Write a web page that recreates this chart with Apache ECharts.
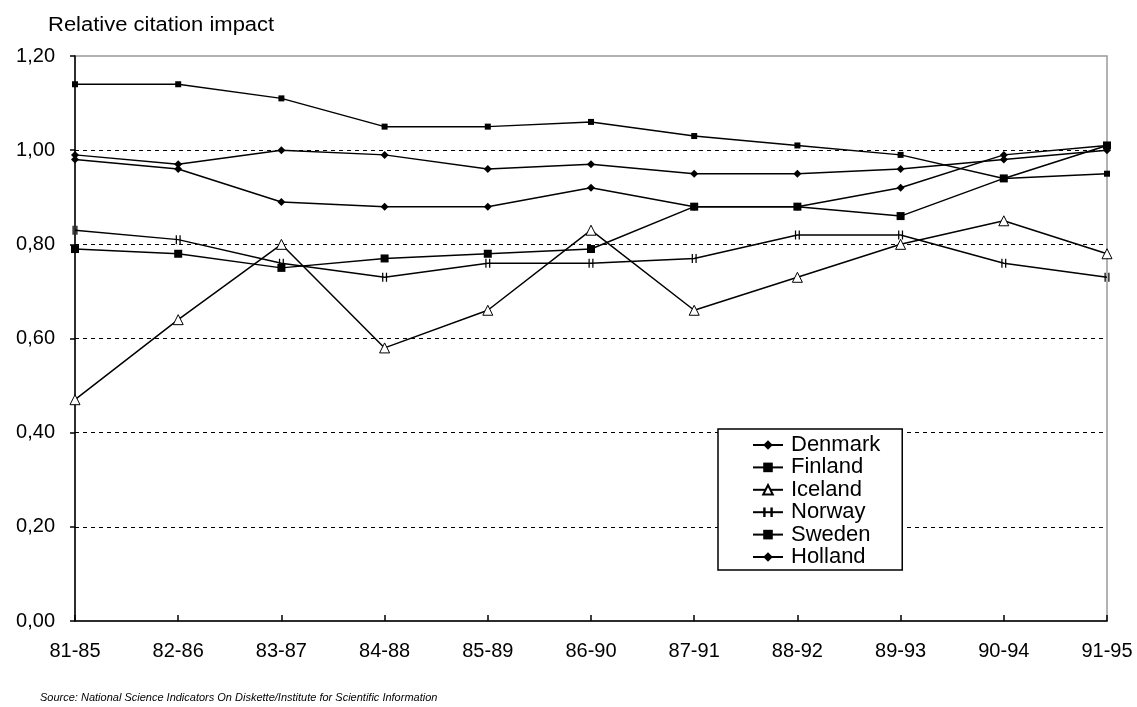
<!DOCTYPE html>
<html><head><meta charset="utf-8">
<script src="https://cdn.jsdelivr.net/npm/echarts@6/dist/echarts.min.js"></script>
<style>html,body{margin:0;padding:0;background:#fff}#c{width:1137px;height:707px}</style>
</head><body><div id="c"></div>
<script>
const categories = ['81-85','82-86','83-87','84-88','85-89','86-90','87-91','88-92','89-93','90-94','91-95'];
const denmark = [0.99,0.97,1.00,0.99,0.96,0.97,0.95,0.95,0.96,0.98,1.00];
const finland = [0.79,0.78,0.75,0.77,0.78,0.79,0.88,0.88,0.86,0.94,1.01];
const iceland = [0.47,0.64,0.80,0.58,0.66,0.83,0.66,0.73,0.80,0.85,0.78];
const norway  = [0.83,0.81,0.76,0.73,0.76,0.76,0.77,0.82,0.82,0.76,0.73];
const sweden  = [1.14,1.14,1.11,1.05,1.05,1.06,1.03,1.01,0.99,0.94,0.95];
const holland = [0.98,0.96,0.89,0.88,0.88,0.92,0.88,0.88,0.92,0.99,1.01];

const FONT = '"Liberation Sans", Arial, sans-serif';
function ser(name, data, symbol, size, fill) {
  return {
    name, type: 'line', data, symbol, symbolSize: size, showSymbol: true,
    lineStyle: { color: '#000', width: 1.5 },
    itemStyle: { color: fill || '#000', borderColor: '#000', borderWidth: fill ? 1 : 0 },
    emphasis: { disabled: true }, animation: false
  };
}
const chart = echarts.init(document.getElementById('c'), null, { renderer: 'canvas' });
chart.setOption({
  animation: false,
  backgroundColor: '#fff',
  textStyle: { fontFamily: FONT },
  grid: { left: 75, right: 30, top: 56, bottom: 86, show: true, borderColor: '#999', borderWidth: 1.5 },
  graphic: [
    { type: 'text', left: 48, top: 15, scaleX: 1.1, style: { text: 'Relative citation impact', font: '20px ' + FONT, fill: '#000' } },
    { type: 'text', left: 40, top: 692, style: { text: 'Source: National Science Indicators On Diskette/Institute for Scientific Information', font: 'italic 11px ' + FONT, fill: '#000' } }
  ],
  xAxis: {
    type: 'category', data: categories, boundaryGap: false,
    axisLine: { lineStyle: { color: '#000', width: 1.5 } },
    axisTick: { show: true, inside: true, length: 6, alignWithLabel: true, lineStyle: { color: '#000', width: 1.5 } },
    axisLabel: { color: '#000', fontSize: 20, margin: 20, fontFamily: FONT },
    splitLine: { show: false }
  },
  yAxis: {
    type: 'value', min: 0, max: 1.2, interval: 0.2,
    axisLine: { show: true, lineStyle: { color: '#000', width: 1.5 } },
    axisTick: { show: true, length: 5, lineStyle: { color: '#000', width: 1.5 } },
    axisLabel: { color: '#000', fontSize: 20, margin: 20, fontFamily: FONT,
      formatter: v => v.toFixed(2).replace('.', ',') },
    splitLine: { show: true, lineStyle: { color: ['transparent','#000','#000','#000','#000','#000','transparent'], type: [4, 4], width: 1 } }
  },
  legend: {
    orient: 'vertical', left: 718, top: 429,
    backgroundColor: '#fff', borderColor: '#000', borderWidth: 1.5,
    padding: [5, 22, 2, 34], itemGap: 0.4, itemWidth: 30, itemHeight: 12,
    textStyle: { color: '#000', fontSize: 22, lineHeight: 22, fontFamily: FONT, padding: [0, 0, 0, 3] },
    data: ['Denmark','Finland','Iceland','Norway','Sweden','Holland']
  },
  series: [
    ser('Denmark', denmark, 'diamond', 8),
    ser('Finland', finland, 'rect', 8),
    ser('Iceland', iceland, 'triangle', 10, '#fff'),
    ser('Norway', norway, 'path://M0,0h1v10h-1z M3,0h1v10h-1z', [5, 9]),
    ser('Sweden', sweden, 'rect', 6),
    ser('Holland', holland, 'diamond', 8)
  ]
});
</script></body></html>
